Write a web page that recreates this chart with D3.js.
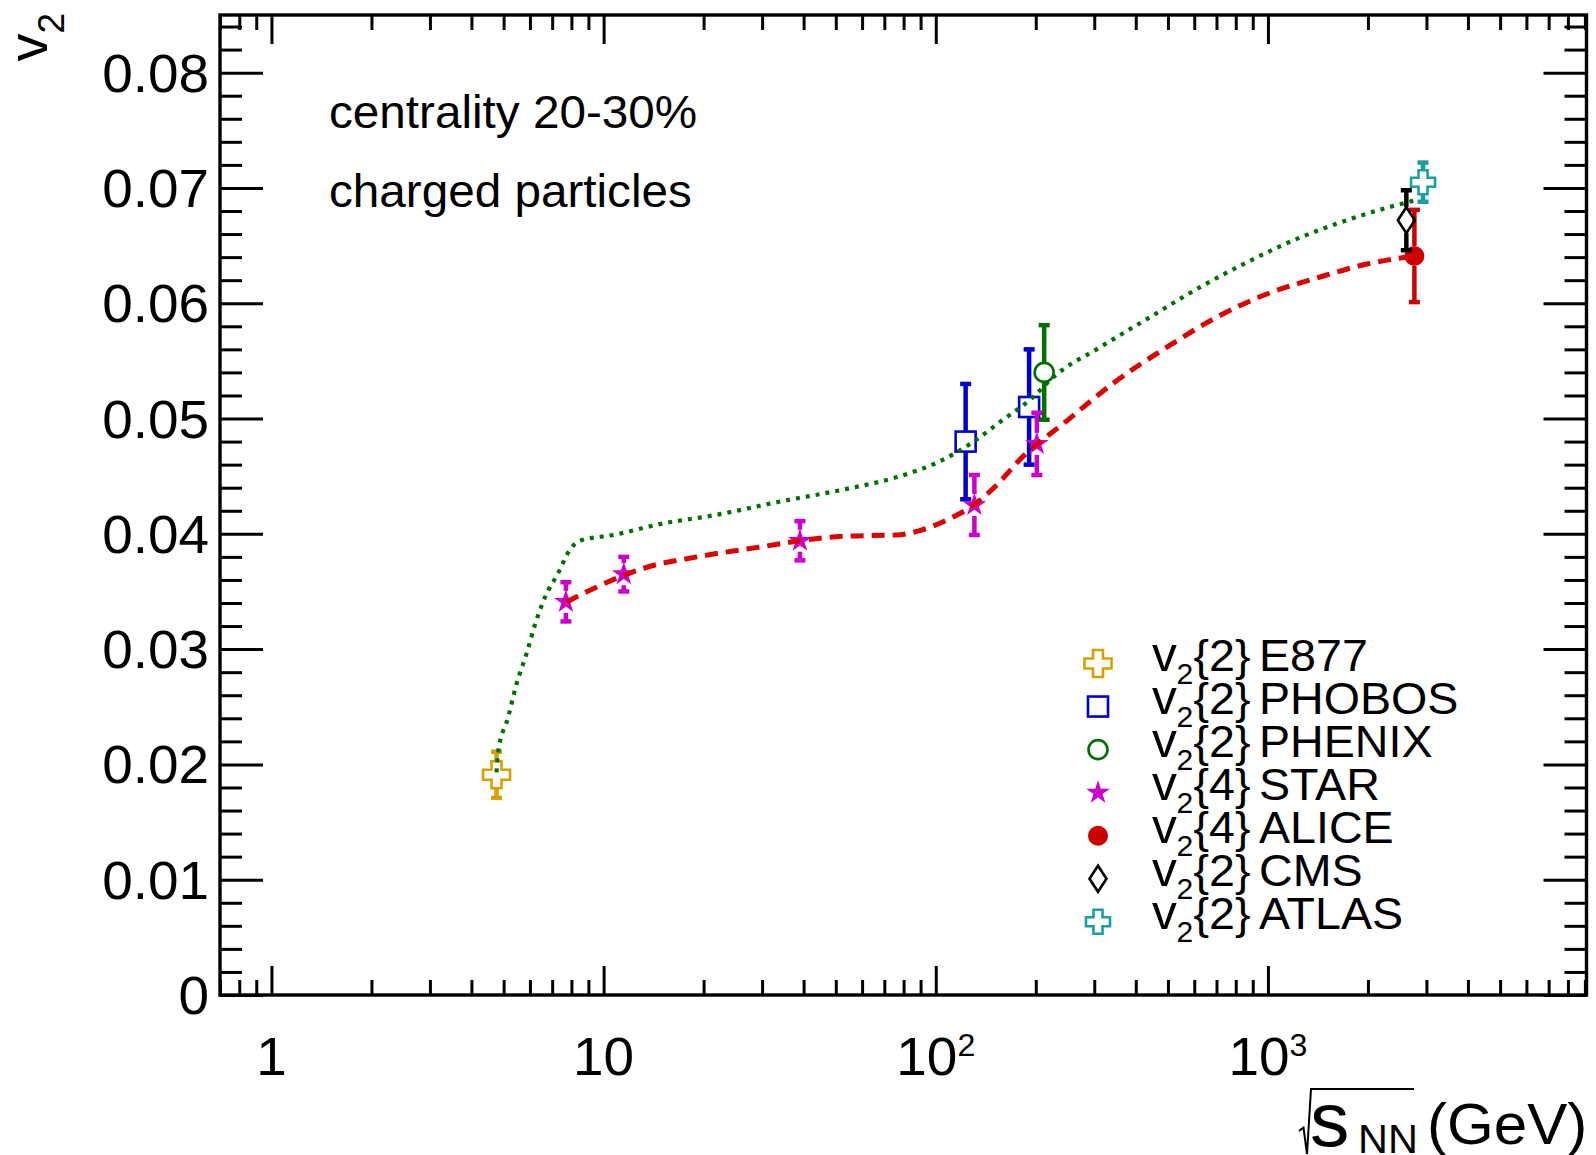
<!DOCTYPE html>
<html>
<head>
<meta charset="utf-8">
<script src="https://cdn.jsdelivr.net/npm/d3@7"></script>
<style>
  body { margin: 0; background: #fff; }
  svg { display: block; }
  text { font-family: "Liberation Sans", Arial, Helvetica, sans-serif; fill: #000; }
</style>
</head>
<body>
<svg id="chart" width="1596" height="1155"></svg>
<script>
// ---- measurements: elliptic flow v2 vs collision energy (centrality 20-30%) ----
const e877Energy   = [4.76];
const e877V2       = [0.0191];
const e877Err      = [0.0020];

const phobosEnergy = [123, 191];
const phobosV2     = [0.0480, 0.0510];
const phobosErr    = [0.0050, 0.0050];

const phenixEnergy = [212];
const phenixV2     = [0.0540];
const phenixErr    = [0.0041];

const starEnergy   = [7.7, 11.5, 39, 130.7, 201.5];
const starV2       = [0.0341, 0.0365, 0.0394, 0.0425, 0.0478];
const starErr      = [0.0017, 0.0015, 0.0017, 0.0026, 0.0027];

const aliceEnergy  = [2760];
const aliceV2      = [0.0641];
const aliceErr     = [0.0040];

const cmsEnergy    = [2610];
const cmsV2        = [0.0672];
const cmsErr       = [0.0026];

const atlasEnergy  = [2930];
const atlasV2      = [0.0705];
const atlasErr     = [0.0017];

// ---- model curves ----
// v2{2} (green dotted)
const curve2Energy = [4.76, 4.81, 5.16, 5.47, 5.86, 6.21, 6.66, 7.30, 7.91, 8.48, 10.7, 15.1, 21.4, 34, 54, 76, 103, 130, 156, 197, 226, 313, 442, 625, 885, 1250, 1770, 2230, 2750];
const curve2V2     = [0.0193, 0.0210, 0.0241, 0.0270, 0.0296, 0.0321, 0.0345, 0.0366, 0.0386, 0.0394, 0.0399, 0.0409, 0.0416, 0.0428, 0.0439, 0.0449, 0.0463, 0.0480, 0.0497, 0.0519, 0.0536, 0.0562, 0.0588, 0.0614, 0.0637, 0.0657, 0.0673, 0.0682, 0.0689];
// v2{4} (red dashed)
const curve4Energy = [7.73, 9.09, 11.5, 13.5, 19.1, 30.3, 39, 54, 76, 90, 108, 130, 151, 180, 248, 351, 497, 702, 993, 1405, 1987, 2760];
const curve4V2     = [0.0341, 0.0351, 0.0364, 0.0371, 0.0380, 0.0389, 0.0394, 0.0398, 0.0399, 0.0403, 0.0412, 0.0425, 0.0441, 0.0465, 0.0498, 0.0533, 0.0562, 0.0588, 0.0608, 0.0622, 0.0634, 0.0641];

// ---- legend ----
const legendNames     = ["E877", "PHOBOS", "PHENIX", "STAR", "ALICE", "CMS", "ATLAS"];
const legendCumulants = ["2", "2", "2", "4", "4", "2", "2"];

// ---- axis ticks ----
const xMajor      = [1, 10, 100, 1000];
const xTickBase   = ["1", "10", "10", "10"];
const xTickExp    = ["", "", "2", "3"];
const yMajor      = [0, 0.01, 0.02, 0.03, 0.04, 0.05, 0.06, 0.07, 0.08];
const yTickLabels = ["0", "0.01", "0.02", "0.03", "0.04", "0.05", "0.06", "0.07", "0.08"];

// ---- layout ----
const W = 1596, H = 1155;
const L = 220, R = 1586.5, T = 15, B = 995;
const SX = 1.036;                // horizontal text stretch of the canvas
const FONT_TICK = 53, FONT_TXT = 45;

const COLORS = {
  E877: "#d6a000", PHOBOS: "#0000cc", PHENIX: "#006e00", STAR: "#cc00cc",
  ALICE: "#cc0000", CMS: "#000000", ATLAS: "#1a9e9e"
};
const MARKERS = {
  E877: "cross", PHOBOS: "square", PHENIX: "circle", STAR: "star",
  ALICE: "dot", CMS: "diamond", ATLAS: "crossSmall"
};

const svg = d3.select("#chart");
svg.append("rect").attr("width", W).attr("height", H).attr("fill", "#fff");

const x = d3.scaleLog().domain([0.7, 9100]).range([L, R]);
const y = d3.scaleLinear().domain([0, 0.085]).range([B, T]);

// minor ticks
const xMinor = [];
[0.1, 1, 10, 100, 1000].forEach(dec => {
  for (let k = 2; k <= 9; k++) {
    const v = k * dec;
    if (v > 0.7 && v < 9100) xMinor.push(v);
  }
});
const yMinor = d3.range(0, 43).map(i => i * 0.002).filter(v => Math.round(v * 1000) % 10 !== 0);

function styleTicks(g) {
  g.select(".domain").remove();
  g.selectAll(".tick line").attr("stroke", "#000").attr("stroke-width", 3);
}

const axes = svg.append("g");
axes.append("g").attr("transform", `translate(0,${B})`)
  .call(d3.axisBottom(x).tickValues(xMajor).tickSize(-29).tickFormat("")).call(styleTicks);
axes.append("g").attr("transform", `translate(0,${B})`)
  .call(d3.axisBottom(x).tickValues(xMinor).tickSize(-15).tickFormat("")).call(styleTicks);
axes.append("g").attr("transform", `translate(0,${T})`)
  .call(d3.axisTop(x).tickValues(xMajor).tickSize(-29).tickFormat("")).call(styleTicks);
axes.append("g").attr("transform", `translate(0,${T})`)
  .call(d3.axisTop(x).tickValues(xMinor).tickSize(-15).tickFormat("")).call(styleTicks);
axes.append("g").attr("transform", `translate(${L},0)`)
  .call(d3.axisLeft(y).tickValues(yMajor).tickSize(-43).tickFormat("")).call(styleTicks);
axes.append("g").attr("transform", `translate(${L},0)`)
  .call(d3.axisLeft(y).tickValues(yMinor).tickSize(-22).tickFormat("")).call(styleTicks);
axes.append("g").attr("transform", `translate(${R},0)`)
  .call(d3.axisRight(y).tickValues(yMajor).tickSize(-43).tickFormat("")).call(styleTicks);
axes.append("g").attr("transform", `translate(${R},0)`)
  .call(d3.axisRight(y).tickValues(yMinor).tickSize(-22).tickFormat("")).call(styleTicks);

// frame
svg.append("rect").attr("x", L).attr("y", T).attr("width", R - L).attr("height", B - T)
  .attr("fill", "none").attr("stroke", "#000").attr("stroke-width", 3.4);

// text helper with the canvas stretch
function stext(parent, px, py, size, anchor) {
  return parent.append("text")
    .attr("transform", `translate(${px},${py}) scale(${SX},1)`)
    .attr("font-size", size)
    .attr("text-anchor", anchor || "start");
}

// y tick labels
const labels = svg.append("g");
yMajor.forEach((v, i) => {
  stext(labels, 209, y(v) + 19, FONT_TICK, "end").text(yTickLabels[i]);
});
// x tick labels
xMajor.forEach((v, i) => {
  const t = stext(labels, x(v), 1075, FONT_TICK, "middle");
  t.append("tspan").text(xTickBase[i]);
  if (xTickExp[i]) t.append("tspan").attr("font-size", 31).attr("dy", -19).text(xTickExp[i]);
});

// y axis title: v_2
const yt = svg.append("text")
  .attr("transform", "translate(47,13) rotate(-90)")
  .attr("text-anchor", "end").attr("font-size", 56);
yt.append("tspan").text("v");
yt.append("tspan").attr("font-size", 37).attr("dy", 17).text("2");

// x axis title: sqrt(s_NN) (GeV)
const xt = svg.append("g");
xt.append("path")
  .attr("d", "M1299,1131 L1303.5,1127.5 L1307,1154 L1311,1089 L1414,1089")
  .attr("fill", "none").attr("stroke", "#000").attr("stroke-width", 2);
const xtt = stext(xt, 1310, 1146, 76, "start");
xtt.append("tspan").text("s");
xtt.append("tspan").attr("x", (1358 - 1310) / SX).attr("dy", 7).attr("font-size", 40).text("NN");
xtt.append("tspan").attr("x", (1427 - 1310) / SX).attr("dy", -9).attr("font-size", 58).text("(GeV)");

// annotations
stext(svg, 329, 128, 46, "start").text("centrality 20-30%");
stext(svg, 329, 207, 46, "start").text("charged particles");

// ---- marker shapes ----
function crossPath(h, a) {
  return `M${-a},${-h} H${a} V${-a} H${h} V${a} H${a} V${h} H${-a} V${a} H${-h} V${-a} H${-a} Z`;
}
const starPath = d3.symbol(d3.symbolStar, 175)();
const markerSpec = {
  cross:      { half: 13.5, draw: (g, c) => g.append("path").attr("d", crossPath(13.5, 5)).attr("fill", "none").attr("stroke", c).attr("stroke-width", 2.6) },
  crossSmall: { half: 12,   draw: (g, c) => g.append("path").attr("d", crossPath(12, 4.5)).attr("fill", "none").attr("stroke", c).attr("stroke-width", 2.6) },
  square:     { half: 10,   draw: (g, c) => g.append("rect").attr("x", -10).attr("y", -10).attr("width", 20).attr("height", 20).attr("fill", "none").attr("stroke", c).attr("stroke-width", 2.6) },
  circle:     { half: 10,   draw: (g, c) => g.append("circle").attr("r", 9.5).attr("fill", "none").attr("stroke", c).attr("stroke-width", 2.6) },
  dot:        { half: 10,   draw: (g, c) => g.append("circle").attr("r", 10).attr("fill", c) },
  star:       { half: 11,   draw: (g, c) => g.append("path").attr("d", starPath).attr("fill", c) },
  diamond:    { half: 13,   draw: (g, c) => g.append("path").attr("d", "M0,-13 L8.5,0 L0,13 L-8.5,0 Z").attr("fill", "none").attr("stroke", c).attr("stroke-width", 2.6) }
};

// ---- data series ----
const series = [
  { name: "E877",   e: e877Energy,   v: e877V2,   err: e877Err },
  { name: "PHOBOS", e: phobosEnergy, v: phobosV2, err: phobosErr },
  { name: "PHENIX", e: phenixEnergy, v: phenixV2, err: phenixErr },
  { name: "STAR",   e: starEnergy,   v: starV2,   err: starErr },
  { name: "ALICE",  e: aliceEnergy,  v: aliceV2,  err: aliceErr },
  { name: "CMS",    e: cmsEnergy,    v: cmsV2,    err: cmsErr },
  { name: "ATLAS",  e: atlasEnergy,  v: atlasV2,  err: atlasErr }
];

const pts = svg.append("g");
series.forEach(s => {
  const color = COLORS[s.name];
  const spec = markerSpec[MARKERS[s.name]];
  s.e.forEach((en, i) => {
    const px = x(en), py = y(s.v[i]);
    const yTop = y(s.v[i] + s.err[i]), yBot = y(s.v[i] - s.err[i]);
    const g = pts.append("g");
    // error bar segments outside the marker, with end caps
    if (py - spec.half > yTop)
      g.append("line").attr("x1", px).attr("x2", px).attr("y1", yTop).attr("y2", py - spec.half)
        .attr("stroke", color).attr("stroke-width", 4.5);
    if (py + spec.half < yBot)
      g.append("line").attr("x1", px).attr("x2", px).attr("y1", py + spec.half).attr("y2", yBot)
        .attr("stroke", color).attr("stroke-width", 4.5);
    [yTop, yBot].forEach(yy => g.append("line")
      .attr("x1", px - 5.5).attr("x2", px + 5.5).attr("y1", yy).attr("y2", yy)
      .attr("stroke", color).attr("stroke-width", 4.5));
    spec.draw(g.append("g").attr("transform", `translate(${px},${py})`), color);
  });
});

// ---- curves ----
const line = d3.line().x(d => x(d[0])).y(d => y(d[1])).curve(d3.curveMonotoneX);
svg.append("path")
  .attr("d", line(d3.zip(curve2Energy, curve2V2)))
  .attr("fill", "none").attr("stroke", "#007000").attr("stroke-width", 4.2)
  .attr("stroke-dasharray", "4,6");
svg.append("path")
  .attr("d", line(d3.zip(curve4Energy, curve4V2)))
  .attr("fill", "none").attr("stroke", "#dd0000").attr("stroke-width", 5)
  .attr("stroke-dasharray", "13,8");

// ---- legend ----
const leg = svg.append("g");
const LX = 1152;
legendNames.forEach((name, i) => {
  const cy = 663.5 + i * 43.05;
  const base = cy + 7;
  markerSpec[MARKERS[name]].draw(leg.append("g").attr("transform", `translate(1098,${cy})`), COLORS[name]);
  const t = stext(leg, LX, base, FONT_TXT, "start");
  t.append("tspan").attr("font-size", 48).text("v");
  t.append("tspan").attr("x", (1176.5 - LX) / SX).attr("dy", 13).attr("font-size", 29).text("2");
  t.append("tspan").attr("x", (1193.5 - LX) / SX).attr("dy", -13).text(`{${legendCumulants[i]}}`);
  t.append("tspan").attr("x", (1259 - LX) / SX).text(name);
});
</script>
</body>
</html>
